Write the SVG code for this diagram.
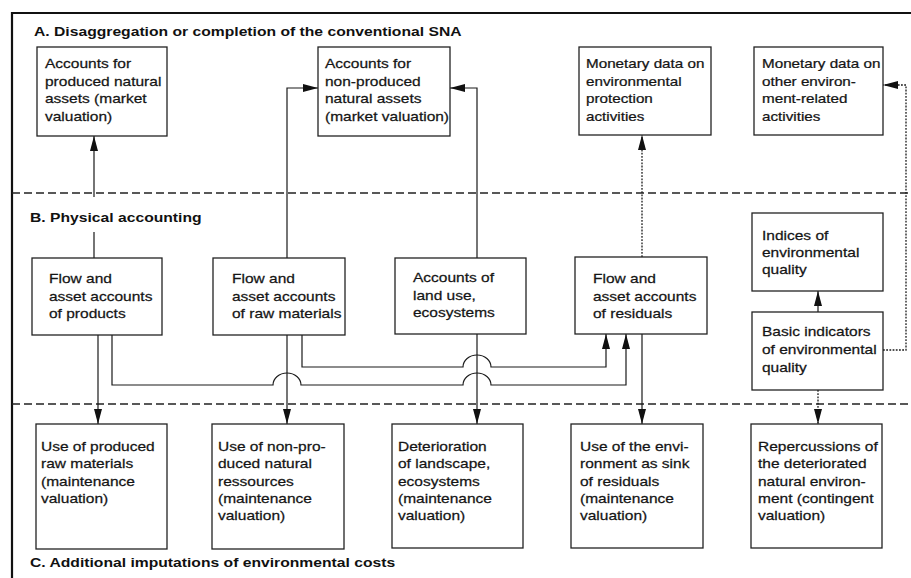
<svg xmlns="http://www.w3.org/2000/svg" width="911" height="578" viewBox="0 0 911 578">
  <style>
    .frame { fill: none; stroke: #111; stroke-width: 2.2; }
    .divider { fill: none; stroke: #222; stroke-width: 1.3; stroke-dasharray: 8 4; }
    .box { fill: #fff; stroke: #222; stroke-width: 1.3; }
    .lbl { font-family: "Liberation Sans", Arial, sans-serif; font-size: 13.6px; fill: #151515; stroke: #151515; stroke-width: 0.25; }
    .sec { font-family: "Liberation Sans", Arial, sans-serif; font-size: 13.4px; font-weight: bold; fill: #111; }
    .conn { fill: none; stroke: #1a1a1a; stroke-width: 1.2; }
    .dot { stroke-width: 1.3; stroke-dasharray: 1.8 1.4; }
  </style>
  <defs>
    <marker id="arrow" markerUnits="userSpaceOnUse" markerWidth="16" markerHeight="10" refX="15" refY="4" orient="auto">
      <path d="M0,0 L15,4 L0,8 Z" fill="#111"/>
    </marker>
  </defs>

  <rect width="911" height="578" fill="#fff"/>

  <!-- outer frame and section dividers -->
  <path class="frame" d="M12,578 V13 H911"/>
  <line class="divider" x1="12" y1="193" x2="911" y2="193"/>
  <line class="divider" x1="12" y1="404" x2="911" y2="404"/>

  <!-- section headings -->
  <text class="sec" transform="translate(34,36) scale(1.17,1)">A. Disaggregation or completion of the conventional SNA</text>
  <text class="sec" transform="translate(30,222) scale(1.17,1)">B. Physical accounting</text>
  <text class="sec" transform="translate(30,567) scale(1.17,1)">C. Additional imputations of environmental costs</text>

  <!-- connectors -->
  <g id="connectors">
    <path class="conn" d="M94,258 V232 M94,197 V136" marker-end="url(#arrow)"/>
    <path class="conn" d="M287,258 V88 H318" marker-end="url(#arrow)"/>
    <path class="conn" d="M477,258 V88 H450" marker-end="url(#arrow)"/>
    <path class="conn dot" d="M642,257 V135" marker-end="url(#arrow)"/>
    <path class="conn dot" d="M883,350 H906 V85 H883" marker-end="url(#arrow)"/>
    <path class="conn" d="M818,312 V291" marker-end="url(#arrow)"/>
    <path class="conn dot" d="M818,390 V424" marker-end="url(#arrow)"/>
    <path class="conn" d="M98,335 V424" marker-end="url(#arrow)"/>
    <path class="conn" d="M112,335 V385 H273 A14,12 0 0 1 301,385 H463 A14,12 0 0 1 491,385 H626 V334" marker-end="url(#arrow)"/>
    <path class="conn" d="M287,335 V424" marker-end="url(#arrow)"/>
    <path class="conn" d="M302,335 V367 H463 A14,12 0 0 1 491,367 H606 V334" marker-end="url(#arrow)"/>
    <path class="conn" d="M477,334 V424" marker-end="url(#arrow)"/>
    <path class="conn" d="M642,334 V424" marker-end="url(#arrow)"/>
  </g>

  <!-- A: monetary accounts -->
  <g id="a-produced">
    <rect class="box" x="37" y="47" width="130" height="89"/>
    <text class="lbl" transform="translate(45,68) scale(1.14,1)"><tspan x="0">Accounts for</tspan><tspan x="0" dy="17.7">produced natural</tspan><tspan x="0" dy="17.7">assets (market</tspan><tspan x="0" dy="17.7">valuation)</tspan></text>
  </g>
  <g id="a-nonproduced">
    <rect class="box" x="318" y="47" width="132" height="89"/>
    <text class="lbl" transform="translate(325,68) scale(1.14,1)"><tspan x="0">Accounts for</tspan><tspan x="0" dy="17.7">non-produced</tspan><tspan x="0" dy="17.7">natural assets</tspan><tspan x="0" dy="17.7">(market valuation)</tspan></text>
  </g>
  <g id="a-protection">
    <rect class="box" x="579" y="47" width="132" height="88"/>
    <text class="lbl" transform="translate(586,68) scale(1.12,1)"><tspan x="0">Monetary data on</tspan><tspan x="0" dy="17.7">environmental</tspan><tspan x="0" dy="17.7">protection</tspan><tspan x="0" dy="17.7">activities</tspan></text>
  </g>
  <g id="a-other">
    <rect class="box" x="754" y="47" width="129" height="88"/>
    <text class="lbl" transform="translate(762,68) scale(1.12,1)"><tspan x="0">Monetary data on</tspan><tspan x="0" dy="17.7">other environ-</tspan><tspan x="0" dy="17.7">ment-related</tspan><tspan x="0" dy="17.7">activities</tspan></text>
  </g>

  <!-- B: physical accounts -->
  <g id="b-products">
    <rect class="box" x="32" y="258" width="130" height="77"/>
    <text class="lbl" transform="translate(49,283) scale(1.14,1)"><tspan x="0">Flow and</tspan><tspan x="0" dy="17.7">asset accounts</tspan><tspan x="0" dy="17.7">of products</tspan></text>
  </g>
  <g id="b-raw">
    <rect class="box" x="213" y="258" width="132" height="77"/>
    <text class="lbl" transform="translate(232,283) scale(1.14,1)"><tspan x="0">Flow and</tspan><tspan x="0" dy="17.7">asset accounts</tspan><tspan x="0" dy="17.7">of raw materials</tspan></text>
  </g>
  <g id="b-land">
    <rect class="box" x="395" y="258" width="131" height="76"/>
    <text class="lbl" transform="translate(413,282) scale(1.14,1)"><tspan x="0">Accounts of</tspan><tspan x="0" dy="17.7">land use,</tspan><tspan x="0" dy="17.7">ecosystems</tspan></text>
  </g>
  <g id="b-residuals">
    <rect class="box" x="575" y="257" width="132" height="77"/>
    <text class="lbl" transform="translate(593,283) scale(1.14,1)"><tspan x="0">Flow and</tspan><tspan x="0" dy="17.7">asset accounts</tspan><tspan x="0" dy="17.7">of residuals</tspan></text>
  </g>
  <g id="b-indices">
    <rect class="box" x="752" y="213" width="131" height="78"/>
    <text class="lbl" transform="translate(762,240) scale(1.14,1)"><tspan x="0">Indices of</tspan><tspan x="0" dy="17">environmental</tspan><tspan x="0" dy="17">quality</tspan></text>
  </g>
  <g id="b-indicators">
    <rect class="box" x="752" y="312" width="131" height="78"/>
    <text class="lbl" transform="translate(762,336) scale(1.14,1)"><tspan x="0">Basic indicators</tspan><tspan x="0" dy="18">of environmental</tspan><tspan x="0" dy="18">quality</tspan></text>
  </g>

  <!-- C: imputed environmental costs -->
  <g id="c-produced">
    <rect class="box" x="36" y="424" width="131" height="125"/>
    <text class="lbl" transform="translate(41,451) scale(1.14,1)"><tspan x="0">Use of produced</tspan><tspan x="0" dy="17.3">raw materials</tspan><tspan x="0" dy="17.3">(maintenance</tspan><tspan x="0" dy="17.3">valuation)</tspan></text>
  </g>
  <g id="c-nonproduced">
    <rect class="box" x="212" y="424" width="132" height="125"/>
    <text class="lbl" transform="translate(218,451) scale(1.14,1)"><tspan x="0">Use of non-pro-</tspan><tspan x="0" dy="17.3">duced natural</tspan><tspan x="0" dy="17.3">ressources</tspan><tspan x="0" dy="17.3">(maintenance</tspan><tspan x="0" dy="17.3">valuation)</tspan></text>
  </g>
  <g id="c-landscape">
    <rect class="box" x="392" y="424" width="131" height="124"/>
    <text class="lbl" transform="translate(398,451) scale(1.14,1)"><tspan x="0">Deterioration</tspan><tspan x="0" dy="17.3">of landscape,</tspan><tspan x="0" dy="17.3">ecosystems</tspan><tspan x="0" dy="17.3">(maintenance</tspan><tspan x="0" dy="17.3">valuation)</tspan></text>
  </g>
  <g id="c-sink">
    <rect class="box" x="571" y="424" width="132" height="124"/>
    <text class="lbl" transform="translate(580,451) scale(1.14,1)"><tspan x="0">Use of the envi-</tspan><tspan x="0" dy="17.3">ronment as sink</tspan><tspan x="0" dy="17.3">of residuals</tspan><tspan x="0" dy="17.3">(maintenance</tspan><tspan x="0" dy="17.3">valuation)</tspan></text>
  </g>
  <g id="c-repercussions">
    <rect class="box" x="751" y="424" width="131" height="124"/>
    <text class="lbl" transform="translate(758,451) scale(1.14,1)"><tspan x="0">Repercussions of</tspan><tspan x="0" dy="17.3">the deteriorated</tspan><tspan x="0" dy="17.3">natural environ-</tspan><tspan x="0" dy="17.3">ment (contingent</tspan><tspan x="0" dy="17.3">valuation)</tspan></text>
  </g>
</svg>
